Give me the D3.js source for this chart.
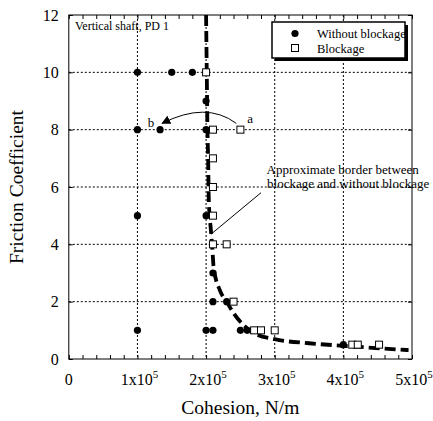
<!DOCTYPE html>
<html>
<head>
<meta charset="utf-8">
<style>
  body { margin: 0; background: #fff; }
  svg { font-family: "Liberation Serif", "Times New Roman", serif; }
  .grid line { stroke: #000; stroke-width: 1; stroke-dasharray: 2,2; }
</style>
</head>
<body>
<svg id="chart" width="433" height="421"></svg>
<script src="https://cdn.jsdelivr.net/npm/d3@7"></script>
<script>
// without blockage (filled circles) : cohesion N/m, friction coefficient
var noBlockX = [1e5, 1.5e5, 1.8e5, 2e5, 1e5, 1.33e5, 2e5, 1e5, 2e5, 2.1e5, 2.1e5, 2.3e5, 1e5, 2e5, 2.1e5, 2.5e5, 2.6e5, 4e5];
var noBlockY = [10, 10, 10, 9, 8, 8, 8, 5, 5, 3, 2, 2, 1, 1, 1, 1, 1, 0.5];

// blockage (open squares)
var blockX = [2e5, 2.1e5, 2.5e5, 2.1e5, 2.1e5, 2.1e5, 2.1e5, 2.3e5, 2.4e5, 2.7e5, 2.8e5, 3e5, 4.13e5, 4.21e5, 4.52e5];
var blockY = [10, 8, 8, 7, 6, 5, 4, 4, 2, 1, 1, 1, 0.5, 0.5, 0.5];

// approximate border (thick dashed)
var borderX = [2.0e5, 2.01e5, 2.02e5, 2.03e5, 2.04e5, 2.07e5, 2.09e5, 2.11e5, 2.2e5, 2.3e5, 2.4e5, 2.57e5, 2.7e5, 3e5, 3.5e5, 4e5, 4.95e5];
var borderY = [12, 10, 8, 7, 5.5, 4.5, 3.9, 3.2, 2.4, 2.0, 1.6, 1.13, 0.9, 0.69, 0.55, 0.46, 0.31];

var xTicks = [0, 1e5, 2e5, 3e5, 4e5, 5e5];
var xTickLabels = ["0", "1x10", "2x10", "3x10", "4x10", "5x10"];
var yTicks = [0, 2, 4, 6, 8, 10, 12];
var seriesNames = ["Without blockage", "Blockage"];

var svg = d3.select("#chart");
var pl = 68.8, pr = 412, pt = 15, pb = 359;

var x = d3.scaleLinear().domain([0, 5e5]).range([pl, pr]);
var y = d3.scaleLinear().domain([0, 12]).range([pb, pt]);

// grid
var grid = svg.append("g").attr("class", "grid");
grid.selectAll(".gx").data(xTicks.slice(1, -1)).enter().append("line")
    .attr("x1", function(d) { return x(d); }).attr("x2", function(d) { return x(d); })
    .attr("y1", pt).attr("y2", pb);
grid.selectAll(".gy").data(yTicks.slice(1, -1)).enter().append("line")
    .attr("y1", function(d) { return y(d); }).attr("y2", function(d) { return y(d); })
    .attr("x1", pl).attr("x2", pr);

// axes: ticks inside
var minor = d3.range(0, 5e5 + 1, 2e4);
svg.append("g").attr("transform", "translate(0," + pb + ")")
    .call(d3.axisTop(x).tickValues(minor).tickSize(4).tickFormat(""))
    .call(function(g) { g.select(".domain").remove(); });
svg.append("g").attr("transform", "translate(0," + pt + ")")
    .call(d3.axisBottom(x).tickValues(minor).tickSize(4).tickFormat(""))
    .call(function(g) { g.select(".domain").remove(); });
svg.append("g").attr("transform", "translate(" + pl + ",0)")
    .call(d3.axisRight(y).tickValues(yTicks).tickSize(4).tickFormat(""))
    .call(function(g) { g.select(".domain").remove(); });
svg.append("g").attr("transform", "translate(" + pr + ",0)")
    .call(d3.axisLeft(y).tickValues(yTicks).tickSize(4).tickFormat(""))
    .call(function(g) { g.select(".domain").remove(); });

svg.append("rect").attr("x", pl).attr("y", pt)
    .attr("width", pr - pl).attr("height", pb - pt)
    .attr("fill", "none").attr("stroke", "#000").attr("stroke-width", 1);

// tick labels
svg.selectAll(".yl").data(yTicks).enter().append("text")
    .attr("x", pl - 10).attr("y", function(d) { return y(d); })
    .attr("dy", "0.35em").attr("text-anchor", "end")
    .attr("font-size", 16).text(function(d) { return d; });

var xl = svg.selectAll(".xl").data(xTicks).enter().append("text")
    .attr("x", function(d, i) { return x(d) + (i ? 2 : 0); }).attr("y", pb + 26)
    .attr("text-anchor", "middle").attr("font-size", 16);
xl.append("tspan").text(function(d, i) { return xTickLabels[i]; });
xl.filter(function(d, i) { return i > 0; }).append("tspan")
    .attr("dy", -7).attr("font-size", 11).text("5");

// axis titles
svg.append("text").attr("x", x(2.5e5)).attr("y", 414)
    .attr("text-anchor", "middle").attr("font-size", 19.5).text("Cohesion, N/m");
svg.append("text").attr("transform", "translate(23," + y(6) + ") rotate(-90)")
    .attr("text-anchor", "middle").attr("font-size", 19.5).text("Friction Coefficient");

// border line
var line = d3.line().x(function(d) { return x(d[0]); }).y(function(d) { return y(d[1]); })
    .curve(d3.curveMonotoneX);
svg.append("path").datum(d3.zip(borderX, borderY)).attr("d", line)
    .attr("fill", "none").attr("stroke", "#000").attr("stroke-width", 3.8)
    .attr("stroke-dasharray", "11,5");

// markers
svg.selectAll(".sq").data(d3.zip(blockX, blockY)).enter().append("rect")
    .attr("x", function(d) { return x(d[0]) - 3.5; }).attr("y", function(d) { return y(d[1]) - 3.5; })
    .attr("width", 7).attr("height", 7)
    .attr("fill", "#fff").attr("stroke", "#000").attr("stroke-width", 1);
svg.selectAll(".ci").data(d3.zip(noBlockX, noBlockY)).enter().append("circle")
    .attr("cx", function(d) { return x(d[0]); }).attr("cy", function(d) { return y(d[1]); })
    .attr("r", 3.6).attr("fill", "#000");

// annotations
svg.append("text").attr("x", 75).attr("y", 30).attr("font-size", 12).text("Vertical shaft, PD 1");
svg.append("text").attr("x", x(2.6e5)).attr("y", y(8.25)).attr("font-size", 13).text("a");
svg.append("text").attr("x", x(1.15e5)).attr("y", y(8.1)).attr("font-size", 13).text("b");

svg.append("defs").append("marker").attr("id", "arr")
    .attr("viewBox", "0 0 10 10").attr("refX", 9).attr("refY", 5)
    .attr("markerWidth", 9).attr("markerHeight", 9).attr("orient", "auto")
    .attr("markerUnits", "userSpaceOnUse")
    .append("path").attr("d", "M0,0L10,5L0,10Z").attr("fill", "#000");
var a0 = [2.44e5, 8.22], ac = [2.0e5, 9.0], a1 = [1.36e5, 8.22];
svg.append("path")
    .attr("d", "M" + x(a0[0]) + "," + y(a0[1]) + "Q" + x(ac[0]) + "," + y(ac[1]) + " " + x(a1[0]) + "," + y(a1[1]))
    .attr("fill", "none").attr("stroke", "#000").attr("stroke-width", 1)
    .attr("marker-end", "url(#arr)");

svg.append("text").attr("x", x(3.99e5)).attr("y", y(6.47)).attr("text-anchor", "middle")
    .attr("font-size", 13).text("Approximate border between");
svg.append("text").attr("x", x(4.07e5)).attr("y", y(5.97)).attr("text-anchor", "middle")
    .attr("font-size", 13).text("blockage and without blockage");
svg.append("line").attr("x1", x(2.8e5)).attr("y1", y(5.8)).attr("x2", x(2.07e5)).attr("y2", y(4.35))
    .attr("stroke", "#000").attr("stroke-width", 1);

// legend
var lg = svg.append("g").attr("transform", "translate(272,22)");
lg.append("rect").attr("x", 3).attr("y", 3).attr("width", 133).attr("height", 36).attr("fill", "#000");
lg.append("rect").attr("x", 0).attr("y", 0).attr("width", 133).attr("height", 36)
    .attr("fill", "#fff").attr("stroke", "#000").attr("stroke-width", 1.5);
lg.append("circle").attr("cx", 23).attr("cy", 11.5).attr("r", 3.6).attr("fill", "#000");
lg.append("rect").attr("x", 19.5).attr("y", 22.5).attr("width", 7).attr("height", 7)
    .attr("fill", "#fff").attr("stroke", "#000");
lg.selectAll(".lt").data(seriesNames).enter().append("text")
    .attr("x", 45).attr("y", function(d, i) { return 15.5 + i * 15; })
    .attr("font-size", 12.5).text(function(d) { return d; });
</script>
</body>
</html>
